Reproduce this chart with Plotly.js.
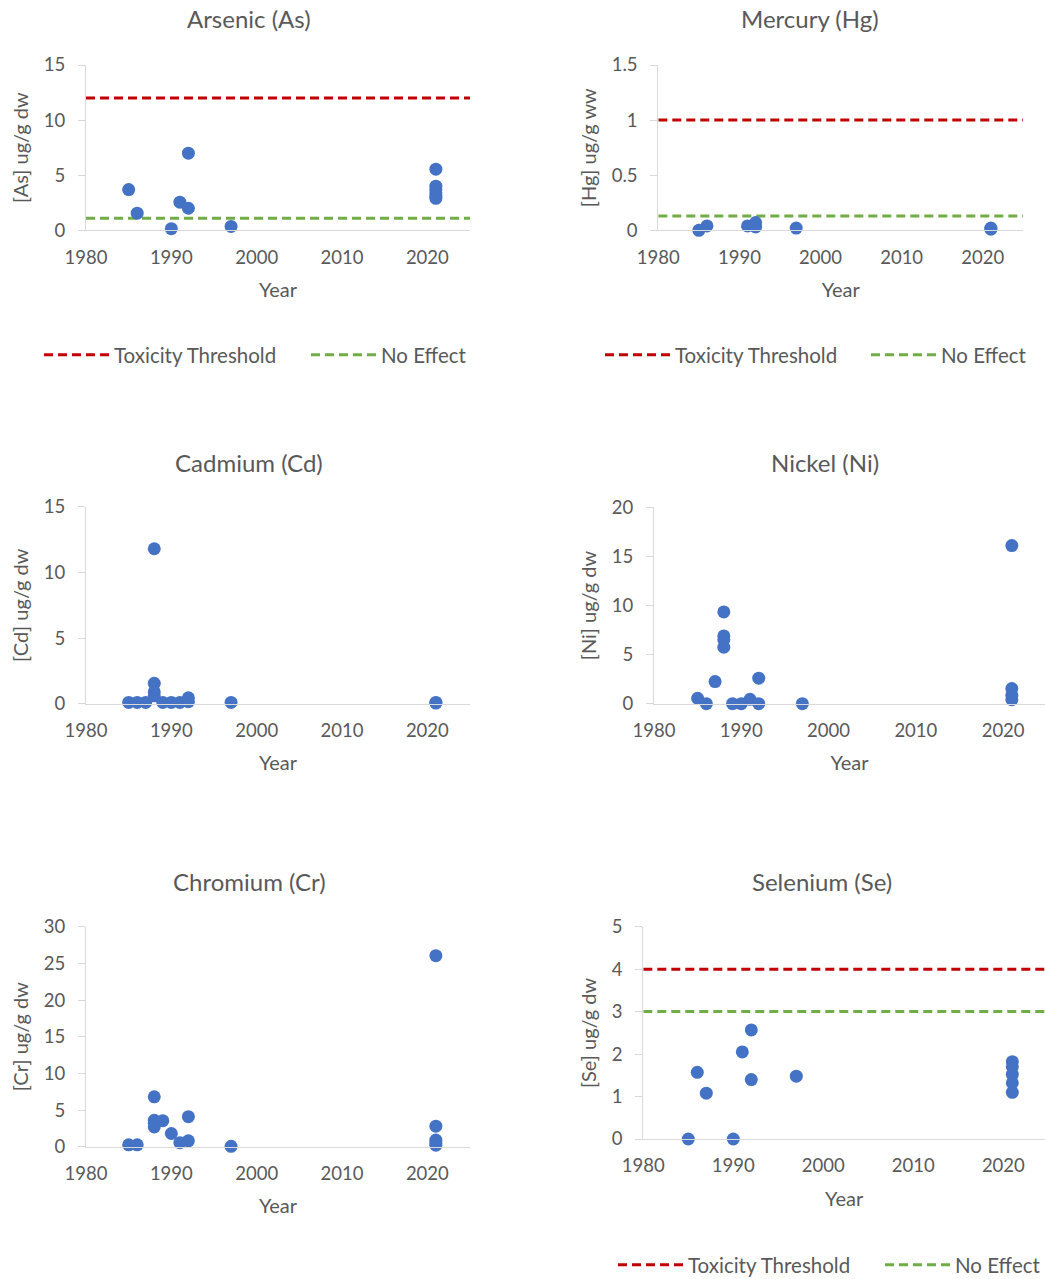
<!DOCTYPE html>
<html>
<head>
<meta charset="utf-8">
<script src="https://cdn.plot.ly/plotly-3.0.1.min.js"></script>
<style>
html,body{margin:0;padding:0;background:#fff;}
#chart{width:1045px;height:1279px;}
</style>
</head>
<body>
<div id="chart"></div>
<script>
// ---- Data ----
const asYears = [1985, 1986, 1990, 1991, 1992, 1992, 1997, 2021, 2021, 2021, 2021, 2021, 2021];
const asValues = [3.7, 1.55, 0.15, 2.55, 7.0, 2.0, 0.35, 5.55, 4.0, 3.7, 3.4, 3.1, 2.9];
const asThresholds = {toxicity: 12, noEffect: 1.1};

const hgYears = [1985, 1986, 1991, 1992, 1992, 1997, 2021, 2021];
const hgValues = [0.0, 0.04, 0.04, 0.07, 0.03, 0.02, 0.02, 0.01];
const hgThresholds = {toxicity: 1.0, noEffect: 0.13};

const cdYears = [1985, 1986, 1987, 1988, 1988, 1988, 1988, 1989, 1990, 1991, 1992, 1992, 1997, 2021, 2021];
const cdValues = [0.1, 0.1, 0.1, 11.8, 1.55, 0.9, 0.6, 0.1, 0.1, 0.1, 0.45, 0.15, 0.1, 0.1, 0.05];

const niYears = [1985, 1986, 1987, 1988, 1988, 1988, 1988, 1989, 1990, 1991, 1992, 1992, 1997, 2021, 2021, 2021, 2021];
const niValues = [0.55, 0.0, 2.25, 9.35, 6.9, 6.5, 5.75, 0.0, 0.0, 0.45, 2.6, 0.0, 0.0, 16.1, 1.55, 0.85, 0.4];

const crYears = [1985, 1986, 1988, 1988, 1988, 1988, 1989, 1990, 1991, 1992, 1992, 1997, 2021, 2021, 2021, 2021, 2021];
const crValues = [0.25, 0.25, 6.8, 3.6, 3.2, 2.7, 3.55, 1.8, 0.55, 4.1, 0.8, 0.05, 26.05, 2.8, 0.9, 0.5, 0.2];

const seYears = [1985, 1986, 1987, 1990, 1991, 1992, 1992, 1997, 2021, 2021, 2021, 2021, 2021];
const seValues = [0.0, 1.57, 1.08, 0.0, 2.05, 2.57, 1.4, 1.48, 1.82, 1.7, 1.52, 1.32, 1.1];
const seThresholds = {toxicity: 4, noEffect: 3};

const titles = ["Arsenic (As)", "Mercury (Hg)", "Cadmium (Cd)", "Nickel (Ni)", "Chromium (Cr)", "Selenium (Se)"];
const yTitles = ["[As] ug/g dw", "[Hg] ug/g ww", "[Cd] ug/g dw", "[Ni] ug/g dw", "[Cr] ug/g dw", "[Se] ug/g dw"];
const xTitle = "Year";
const lineYearSpan = [1980, 2025];
const seriesNames = {toxicity: "Toxicity Threshold", noEffect: "No Effect"};

// ---- Layout helpers ----
const W = 1045, H = 1279;
const px = p => p / W;
const py = p => 1 - p / H;
const FONT = "Lato, 'Liberation Sans', sans-serif";
const GREY = "#595959";
const BLUE = "#4472C4";
const RED = "#C00000";
const GREEN = "#70AD47";

const panels = [
  {years: asYears, values: asValues, thr: asThresholds, legends: ["legend", "legend2"], lg: [43, 310, 355],
   x: [86, 470], y: [65, 230.3], xr: [1980, 2025], yr: [0, 15], dy: 5, title: [249, 19]},
  {years: hgYears, values: hgValues, thr: hgThresholds, legends: ["legend3", "legend4"], lg: [604, 870, 355],
   x: [658.3, 1023.3], y: [65, 230.3], xr: [1980, 2025], yr: [0, 1.5], dy: 0.5, title: [810, 19]},
  {years: cdYears, values: cdValues, thr: null,
   x: [86, 470], y: [506.7, 703.7], xr: [1980, 2025], yr: [0, 15], dy: 5, title: [249, 462]},
  {years: niYears, values: niValues, thr: null,
   x: [654, 1045], y: [507.3, 703.7], xr: [1980, 2024.8], yr: [0, 20], dy: 5, title: [825, 462]},
  {years: crYears, values: crValues, thr: null,
   x: [86, 470], y: [926.7, 1146.7], xr: [1980, 2025], yr: [0, 30], dy: 5, title: [249, 881]},
  {years: seYears, values: seValues, thr: seThresholds, legends: ["legend5", "legend6"], lg: [617, 884, 1265],
   x: [643.3, 1045], y: [926.7, 1139], xr: [1980, 2024.63], yr: [0, 5], dy: 1, title: [822, 881]}
];

const traces = [];
const layout = {
  width: W, height: H,
  margin: {l: 0, r: 0, t: 0, b: 0, autoexpand: false},
  paper_bgcolor: "#ffffff",
  plot_bgcolor: "#ffffff",
  font: {family: FONT, color: GREY},
  showlegend: true,
  annotations: []
};

const legendBase = {
  orientation: "h", xanchor: "left", yanchor: "middle",
  bgcolor: "rgba(0,0,0,0)", borderwidth: 0,
  font: {family: FONT, size: 20.5, color: GREY},
  itemwidth: 65,
  itemclick: false, itemdoubleclick: false
};
const LEG_DX = -4; // offset between legend x and line start

panels.forEach((p, i) => {
  const n = i + 1;
  const xa = "x" + (n === 1 ? "" : n);
  const ya = "y" + (n === 1 ? "" : n);
  const xKey = "xaxis" + (n === 1 ? "" : n);
  const yKey = "yaxis" + (n === 1 ? "" : n);

  if (p.thr) {
    traces.push({
      type: "scatter", mode: "lines", x: lineYearSpan, y: [p.thr.toxicity, p.thr.toxicity],
      xaxis: xa, yaxis: ya, name: seriesNames.toxicity, legend: p.legends[0],
      line: {color: RED, width: 3, dash: "9px,5px"}, hoverinfo: "skip"
    });
    traces.push({
      type: "scatter", mode: "lines", x: lineYearSpan, y: [p.thr.noEffect, p.thr.noEffect],
      xaxis: xa, yaxis: ya, name: seriesNames.noEffect, legend: p.legends[1],
      line: {color: GREEN, width: 3, dash: "9px,5px"}, hoverinfo: "skip"
    });
    layout[p.legends[0]] = Object.assign({}, legendBase, {x: px(p.lg[0] + LEG_DX), y: py(p.lg[2])});
    layout[p.legends[1]] = Object.assign({}, legendBase, {x: px(p.lg[1] + LEG_DX), y: py(p.lg[2])});
  }
  traces.push({
    type: "scatter", mode: "markers", x: p.years, y: p.values,
    xaxis: xa, yaxis: ya, showlegend: false, cliponaxis: false,
    marker: {color: BLUE, size: 13}
  });

  layout[xKey] = {
    domain: [px(p.x[0]), px(p.x[1])], anchor: ya,
    range: p.xr, tick0: 1980, dtick: 10,
    showline: true, linecolor: "#d9d9d9", linewidth: 1,
    ticks: "", showgrid: false, zeroline: false,
    tickfont: {family: FONT, size: 18.5, color: GREY},
    ticklabelstandoff: 10,
    title: {text: xTitle, font: {family: FONT, size: 20, color: GREY}, standoff: 16}
  };
  layout[yKey] = {
    domain: [py(p.y[1]), py(p.y[0])], anchor: xa,
    range: p.yr, tick0: 0, dtick: p.dy,
    showline: true, linecolor: "#d9d9d9", linewidth: 1,
    ticks: "outside", ticklen: 7, tickcolor: "#d9d9d9",
    showgrid: false, zeroline: false,
    tickfont: {family: FONT, size: 18.5, color: GREY},
    ticklabelstandoff: 9,
    title: {text: yTitles[i], font: {family: FONT, size: 20, color: GREY}, standoff: 9}
  };
  layout.annotations.push({
    text: titles[i], xref: "paper", yref: "paper",
    x: px(p.title[0]), y: py(p.title[1]), xanchor: "center", yanchor: "middle",
    showarrow: false, font: {family: FONT, size: 24, color: GREY}
  });
});

Plotly.newPlot("chart", traces, layout, {displayModeBar: false, staticPlot: true});
</script>
</body>
</html>
